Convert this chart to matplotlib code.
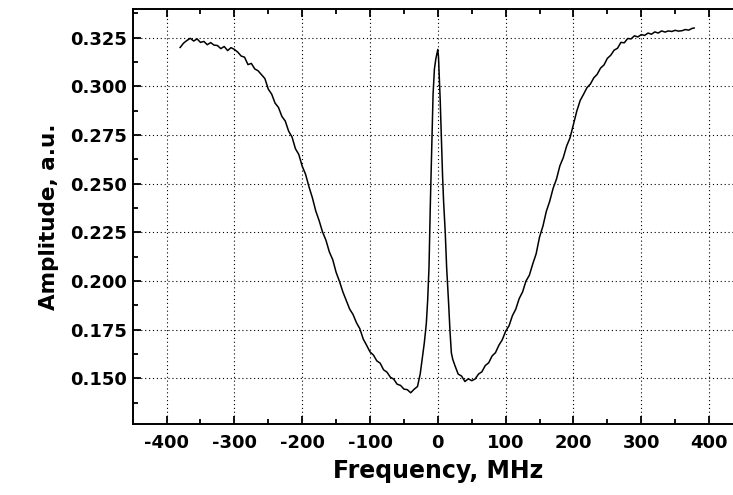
"""
Amplitude vs frequency spectrum (narrow peak inside a broad dip)
"""

import matplotlib
matplotlib.use('Agg')
import matplotlib.pyplot as plt
from matplotlib.ticker import MultipleLocator, FormatStrFormatter

matplotlib.rcParams['font.family'] = ['DejaVu Sans']
matplotlib.rcParams['font.weight'] = 'bold'
matplotlib.rcParams['axes.unicode_minus'] = False

# frequency, MHz
freq = [
    -380, -375, -370, -365, -360, -355, -350, -345, -340, -335,
    -330, -325, -320, -315, -310, -305, -300, -295, -290, -285,
    -280, -275, -270, -265, -260, -255, -250, -245, -240, -235,
    -230, -225, -220, -215, -210, -205, -200, -195, -190, -185,
    -180, -175, -170, -165, -160, -155, -150, -145, -140, -135,
    -130, -125, -120, -115, -110, -105, -100, -95, -90, -85,
    -80, -75, -70, -65, -60, -55, -50, -45, -40, -35,
    -30, -26, -23, -20, -17, -15, -13, -11, -9, -7,
    -5, -3, -1, 0, 1, 2, 3.5, 5, 7, 8.5,
    11, 13, 16, 18, 20, 22, 25, 28, 30, 35,
    40, 45, 50, 55, 60, 65, 70, 75, 80, 85,
    90, 95, 100, 105, 110, 115, 120, 125, 130, 135,
    140, 145, 150, 155, 160, 165, 170, 175, 180, 185,
    190, 195, 200, 205, 210, 215, 220, 225, 230, 235,
    240, 245, 250, 255, 260, 265, 270, 275, 280, 285,
    290, 295, 300, 305, 310, 315, 320, 325, 330, 335,
    340, 345, 350, 355, 360, 365, 370, 375, 378,
]

# amplitude, a.u.
amp = [
    0.3200, 0.3222, 0.3236, 0.3247, 0.3233, 0.3244, 0.3226, 0.3231, 0.3214, 0.3225,
    0.3212, 0.3210, 0.3194, 0.3205, 0.3184, 0.3199, 0.3190, 0.3176, 0.3156, 0.3150,
    0.3112, 0.3118, 0.3090, 0.3080, 0.3060, 0.3040, 0.2986, 0.2960, 0.2914, 0.2892,
    0.2846, 0.2822, 0.2770, 0.2740, 0.2680, 0.2650, 0.2590, 0.2548, 0.2484, 0.2428,
    0.2360, 0.2310, 0.2252, 0.2210, 0.2150, 0.2110, 0.2045, 0.1998, 0.1944, 0.1900,
    0.1856, 0.1828, 0.1786, 0.1755, 0.1702, 0.1670, 0.1636, 0.1620, 0.1590, 0.1578,
    0.1544, 0.1532, 0.1506, 0.1496, 0.1470, 0.1464, 0.1445, 0.1442, 0.1426, 0.1444,
    0.1458, 0.1522, 0.1600, 0.1680, 0.1780, 0.1900, 0.2070, 0.2400, 0.2690, 0.2960,
    0.3090, 0.3140, 0.3175, 0.3190, 0.3150, 0.3060, 0.2930, 0.2760, 0.2540, 0.2410,
    0.2246, 0.2070, 0.1880, 0.1740, 0.1630, 0.1598, 0.1568, 0.1540, 0.1522, 0.1512,
    0.1484, 0.1498, 0.1488, 0.1497, 0.1522, 0.1534, 0.1566, 0.1580, 0.1615, 0.1632,
    0.1670, 0.1698, 0.1742, 0.1770, 0.1822, 0.1856, 0.1910, 0.1944, 0.2000, 0.2030,
    0.2088, 0.2140, 0.2226, 0.2282, 0.2358, 0.2410, 0.2476, 0.2524, 0.2592, 0.2634,
    0.2694, 0.2736, 0.2806, 0.2874, 0.2928, 0.2960, 0.2994, 0.3012, 0.3044, 0.3062,
    0.3094, 0.3110, 0.3144, 0.3160, 0.3186, 0.3196, 0.3226, 0.3224, 0.3246, 0.3244,
    0.3260, 0.3254, 0.3266, 0.3262, 0.3274, 0.3268, 0.3280, 0.3274, 0.3285, 0.3279,
    0.3285, 0.3282, 0.3288, 0.3284, 0.3286, 0.3292, 0.3289, 0.3298, 0.3300,
]

fig = plt.figure(figsize=(7.33, 4.95), dpi=100)
ax = fig.add_axes([0.181, 0.1428, 0.8326, 0.8384])

ax.plot(freq, amp, color='black', linewidth=1.1)

ax.set_xlim(-450, 450)
ax.set_ylim(0.1264, 0.3396)

ax.xaxis.set_major_locator(MultipleLocator(100))
ax.xaxis.set_minor_locator(MultipleLocator(50))
ax.yaxis.set_major_locator(MultipleLocator(0.025))
ax.yaxis.set_minor_locator(MultipleLocator(0.0125))
ax.yaxis.set_major_formatter(FormatStrFormatter('%.3f'))

ax.tick_params(which='both', direction='in', top=True, right=False,
               width=1.3, labelsize=13)
ax.tick_params(which='major', length=6)
ax.tick_params(which='minor', length=3.5)
ax.tick_params(axis='x', pad=7)
ax.tick_params(axis='y', pad=4)

for side in ['left', 'bottom', 'top']:
    ax.spines[side].set_linewidth(1.4)
ax.spines['right'].set_visible(False)

ax.grid(True, which='major', color='black', linestyle=(0, (1, 2.5)), linewidth=0.8)

ax.set_xlabel('Frequency, MHz', fontsize=17, fontweight='bold', labelpad=5)
ax.set_ylabel('Amplitude, a.u.', fontsize=15.5, fontweight='bold', labelpad=8)

plt.savefig('out.png', dpi=100)
plt.close()
